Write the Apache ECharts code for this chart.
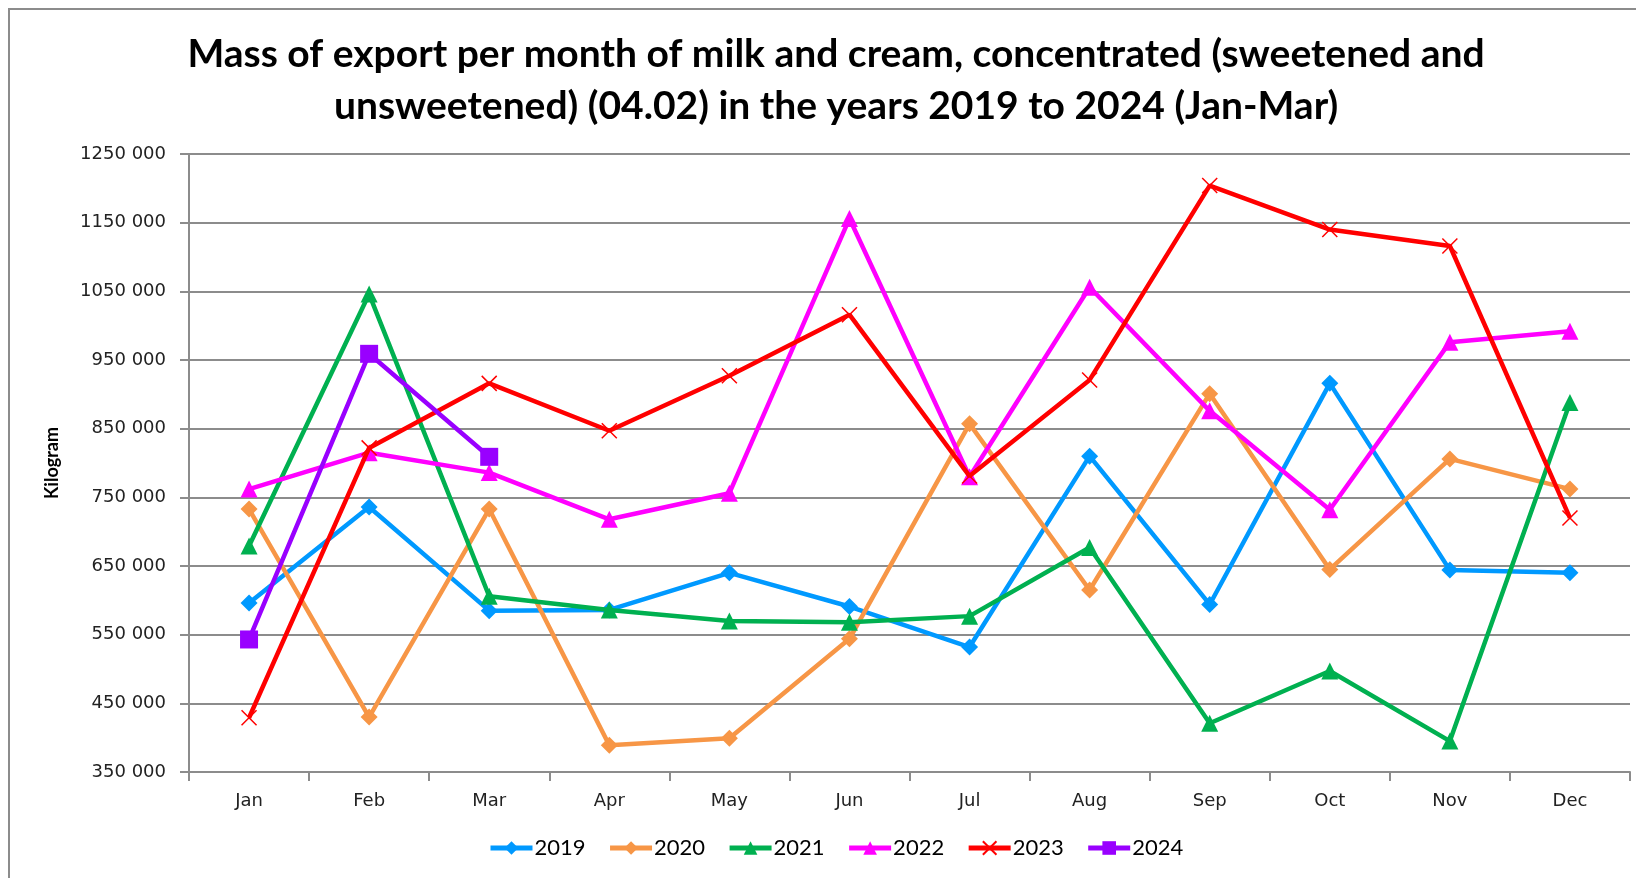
<!DOCTYPE html>
<html>
<head>
<meta charset="utf-8">
<script src="https://cdn.jsdelivr.net/npm/echarts@6/dist/echarts.min.js"></script>
<style>
  html, body { margin: 0; padding: 0; background: #fff; }
  #chart { width: 1636px; height: 878px; }
</style>
</head>
<body>
<div id="chart"></div>
<script>
// data
var months = ['Jan', 'Feb', 'Mar', 'Apr', 'May', 'Jun', 'Jul', 'Aug', 'Sep', 'Oct', 'Nov', 'Dec']
var years = ['2019', '2020', '2021', '2022', '2023', '2024']
var y2019 = [596000, 736000, 585000, 586000, 640000, 591000, 532000, 810000, 594000, 916000, 644000, 640000]
var y2020 = [733000, 430000, 733000, 389000, 399000, 544000, 857000, 615000, 901000, 645000, 806000, 762000]
var y2021 = [679000, 1046000, 606000, 586000, 570000, 568000, 577000, 677000, 421000, 497000, 395000, 888000]
var y2022 = [762000, 815000, 786000, 718000, 756000, 1156000, 780000, 1056000, 876000, 732000, 976000, 992000]
var y2023 = [429000, 822000, 916000, 847000, 927000, 1016000, 781000, 921000, 1204000, 1140000, 1116000, 720000]
var y2024 = [543000, 959000, 809000]
var yTicks = [350000, 1250000, 100000] // min, max, step

var colors = ['#0099ff', '#f79646', '#00b050', '#ff00ff', '#ff0000', '#9900ff']
var symbols = ['diamond', 'diamond', 'triangle', 'triangle', 'path://M0,0L10,10M10,0L0,10', 'rect']
var symbolSizes = [17, 17, 17, 17, 15, 18]
var allData = [y2019, y2020, y2021, y2022, y2023, y2024]

var chart = echarts.init(document.getElementById('chart'))

var series = years.map(function (yr, i) {
  var s = {
    name: yr,
    type: 'line',
    data: allData[i],
    symbol: symbols[i],
    symbolSize: symbolSizes[i],
    showAllSymbol: true,
    lineStyle: { color: colors[i], width: 4.5 },
    itemStyle: { color: colors[i] },
    z: 2 + i
  }
  // the cross marker is only strokes
  if (i === 4) {
    s.itemStyle = { color: colors[i], borderColor: colors[i], borderWidth: 1.5 }
  }
  return s
})

var option = {
  animation: false,
  color: colors,
  title: {
    text: 'Mass of export per month of milk and cream, concentrated (sweetened and\nunsweetened) (04.02) in the years 2019 to 2024 (Jan-Mar)',
    left: 831,
    top: 23,
    textAlign: 'center',
    textStyle: {
      fontFamily: 'Lato',
      fontWeight: 'bold',
      fontSize: 39,
      lineHeight: 52,
      color: '#000'
    }
  },
  legend: {
    data: years,
    left: 483,
    top: 832,
    itemWidth: 42,
    itemHeight: 17,
    itemGap: 22,
    lineStyle: { width: 5 },
    textStyle: { fontFamily: 'Lato', fontSize: 22, color: '#000', padding: [0, 0, 0, -3] }
  },
  grid: { left: 189, right: 6, top: 154, bottom: 106 },
  xAxis: {
    type: 'category',
    data: months,
    boundaryGap: true,
    axisLine: { lineStyle: { color: '#8c8c8c', width: 2 } },
    axisTick: { show: true, length: 9, lineStyle: { color: '#8c8c8c', width: 2 } },
    axisLabel: { fontFamily: 'DejaVu Sans', fontSize: 18, color: '#222', margin: 20 }
  },
  yAxis: {
    type: 'value',
    min: yTicks[0],
    max: yTicks[1],
    interval: yTicks[2],
    name: 'Kilogram',
    nameLocation: 'middle',
    nameGap: 128,
    nameTextStyle: { fontFamily: 'Lato', fontWeight: 'bold', fontSize: 18, color: '#000' },
    axisLine: { show: true, lineStyle: { color: '#8c8c8c', width: 2 } },
    axisTick: { show: true, length: 9, lineStyle: { color: '#8c8c8c', width: 2 } },
    splitLine: { lineStyle: { color: '#8c8c8c', width: 2 } },
    axisLabel: {
      fontFamily: 'DejaVu Sans',
      fontSize: 18,
      color: '#222',
      margin: 23,
      formatter: function (v) {
        return Math.floor(v / 1000) + ' ' + String(v % 1000).padStart(3, '0')
      }
    }
  },
  graphic: [{
    type: 'rect',
    shape: { x: 9, y: 9, width: 1700, height: 1000 },
    style: { fill: null, stroke: '#8c8c8c', lineWidth: 2 },
    silent: true
  }],
  series: series
}

chart.setOption(option)
</script>
</body>
</html>
